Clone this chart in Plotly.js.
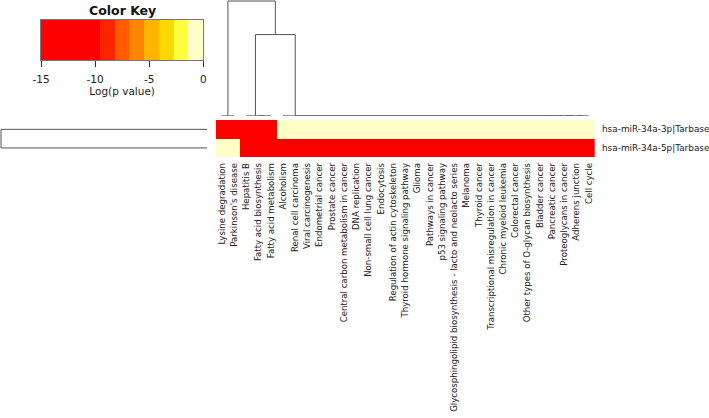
<!DOCTYPE html>
<html>
<head>
<meta charset="utf-8">
<script src="https://cdn.plot.ly/plotly-3.0.1.min.js"></script>
<style>html,body{margin:0;padding:0;background:#fff;}#chart{width:709px;height:418px;}</style>
</head>
<body>
<div id="chart"></div>
<script>
// ---- data ----
const pathways = [
  "Lysine degradation", "Parkinson's disease", "Hepatitis B", "Fatty acid biosynthesis",
  "Fatty acid metabolism", "Alcoholism", "Renal cell carcinoma", "Viral carcinogenesis",
  "Endometrial cancer", "Prostate cancer", "Central carbon metabolism in cancer",
  "DNA replication", "Non-small cell lung cancer", "Endocytosis",
  "Regulation of actin cytoskeleton", "Thyroid hormone signaling pathway", "Glioma",
  "Pathways in cancer", "p53 signaling pathway",
  "Glycosphingolipid biosynthesis - lacto and neolacto series", "Melanoma",
  "Thyroid cancer", "Transcriptional misregulation in cancer", "Chronic myeloid leukemia",
  "Colorectal cancer", "Other types of O-glycan biosynthesis", "Bladder cancer",
  "Pancreatic cancer", "Proteoglycans in cancer", "Adherens junction", "Cell cycle"
];
const mirnas = ["hsa-miR-34a-3p|Tarbase", "hsa-miR-34a-5p|Tarbase"];
// log(p value), clipped at -15
const logp_3p = [-15,-15,-15,-15,-15, 0,0,0,0,0, 0,0,0,0,0, 0,0,0,0,0, 0,0,0,0,0, 0,0,0,0,0, 0];
const logp_5p = [0,0,-15,-15,-15, -15,-15,-15,-15,-15, -15,-15,-15,-15,-15, -15,-15,-15,-15,-15, -15,-15,-15,-15,-15, -15,-15,-15,-15,-15, -15];

// colour key: 11 bins from -15 to 0
const keyBreaks = [-15, -13.636, -12.273, -10.909, -9.545, -8.182, -6.818, -5.455, -4.091, -2.727, -1.364, 0];
const keyColors = ["#FF0000","#FF0000","#FF0000","#FF0000","#FF2400","#FF5A00","#FF8400","#FFB400","#FFD800","#FFFF40","#FFFFC8"];
const keyTicks = [-15, -10, -5, 0];

// column dendrogram (hclust style merges: negative = leaf index, positive = merge number), heights
const colMerges = [
  [-1,-2,0], [-4,-5,0], [-3,2,0],
  [-30,-31,0], [-29,4,0], [-28,5,0], [-27,6,0], [-26,7,0], [-25,8,0], [-24,9,0],
  [-23,10,0], [-22,11,0], [-21,12,0], [-20,13,0], [-19,14,0], [-18,15,0], [-17,16,0],
  [-16,17,0], [-15,18,0], [-14,19,0], [-13,20,0], [-12,21,0], [-11,22,0], [-10,23,0],
  [-9,24,0], [-8,25,0], [-7,26,0], [-6,27,0],
  [3,28,15.0], [1,29,21.21]
];
// row dendrogram
const rowMerges = [[-1,-2,79.37]];

// ---- helpers ----
function dendroSegments(merges){
  const pos = [], hgt = [];
  const xs = [], ys = [];
  const nodePos = c => c < 0 ? -c : pos[c-1];
  const nodeH = c => c < 0 ? 0 : hgt[c-1];
  merges.forEach(m => {
    const [a,b,h] = m;
    const pa = nodePos(a), pb = nodePos(b);
    xs.push(pa, pa, pb, pb, null);
    ys.push(nodeH(a), h, h, nodeH(b), null);
    pos.push((pa+pb)/2); hgt.push(h);
  });
  return {pos: xs, h: ys};
}

const zmin = -15, zmax = 0;
const cs = [];
keyColors.forEach((c,i) => {
  cs.push([(keyBreaks[i]-zmin)/(zmax-zmin), c]);
  cs.push([(keyBreaks[i+1]-zmin)/(zmax-zmin), c]);
});

const W = 709, H = 418;
const px = v => v / W;
const py = v => 1 - v / H;
const FONT = "DejaVu Sans, sans-serif";
const lineCol = "#555555";

const heat = {
  type: "heatmap",
  x: pathways, y: mirnas,
  z: [logp_3p, logp_5p],
  zmin: zmin, zmax: zmax, colorscale: cs, showscale: false,
  xaxis: "x", yaxis: "y", hoverinfo: "x+y+z"
};

const keyMid = keyColors.map((c,i) => (keyBreaks[i]+keyBreaks[i+1])/2);
const key = {
  type: "heatmap",
  x: keyBreaks, y: [0, 1], z: [keyMid],
  zmin: zmin, zmax: zmax, colorscale: cs, showscale: false,
  xaxis: "x2", yaxis: "y2", hoverinfo: "skip"
};

const cd = dendroSegments(colMerges);
const colDend = {
  type: "scatter", mode: "lines", x: cd.pos, y: cd.h,
  line: {color: lineCol, width: 1}, xaxis: "x3", yaxis: "y3",
  hoverinfo: "skip", cliponaxis: false
};
const rd = dendroSegments(rowMerges);
const rowDend = {
  type: "scatter", mode: "lines", x: rd.h, y: rd.pos,
  line: {color: lineCol, width: 1}, xaxis: "x4", yaxis: "y4",
  hoverinfo: "skip", cliponaxis: false
};

const hmX = [px(215.7), px(595)];
const hmY = [py(157.3), py(120)];
const maxColH = 21.21, maxRowH = 79.37;

const layout = {
  width: W, height: H,
  margin: {l: 0, r: 0, t: 0, b: 0},
  paper_bgcolor: "#ffffff", plot_bgcolor: "rgba(0,0,0,0)",
  showlegend: false,
  font: {family: FONT, color: "#222222"},
  xaxis: {
    domain: hmX, anchor: "y", type: "category",
    tickangle: -90, ticks: "", showgrid: false, zeroline: false, showline: false,
    tickfont: {size: 8.6, family: FONT, color: "#222222"}, ticklabelstandoff: 3,
    fixedrange: true
  },
  yaxis: {
    domain: hmY, anchor: "x", type: "category", autorange: "reversed",
    side: "right", ticks: "", showgrid: false, zeroline: false, showline: false,
    tickfont: {size: 8.9, family: FONT, color: "#222222"}, ticklabelstandoff: 6,
    fixedrange: true
  },
  xaxis2: {
    domain: [px(41), px(203.3)], anchor: "y2", range: [zmin, zmax],
    tickvals: keyTicks, ticktext: keyTicks.map(String), ticks: "outside", ticklen: 6,
    tickcolor: "#333333", tickwidth: 1, showgrid: false, zeroline: false,
    showline: true, linecolor: "#777777", mirror: true,
    tickfont: {size: 10.5, family: FONT, color: "#222222"}, ticklabelstandoff: 3,
    title: {text: "Log(p value)", font: {size: 10.5, family: FONT, color: "#222222"}, standoff: 3},
    fixedrange: true
  },
  yaxis2: {
    domain: [py(60), py(20)], anchor: "x2", range: [0, 1],
    showticklabels: false, ticks: "", showgrid: false, zeroline: false,
    showline: true, linecolor: "#777777", mirror: true, fixedrange: true
  },
  xaxis3: {
    domain: hmX, anchor: "y3", range: [0.5, pathways.length + 0.5],
    visible: false, fixedrange: true
  },
  yaxis3: {
    domain: [py(115.7), 1], anchor: "x3", range: [0, maxColH * 115.7 / 114.7],
    visible: false, fixedrange: true
  },
  xaxis4: {
    domain: [0, px(207.3)], anchor: "y4", range: [maxRowH * 207.3 / 206.3, 0],
    visible: false, fixedrange: true
  },
  yaxis4: {
    domain: hmY, anchor: "x4", range: [mirnas.length + 0.5, 0.5],
    visible: false, fixedrange: true
  },
  annotations: [{
    text: "<b>Color Key</b>", xref: "paper", yref: "paper",
    x: px(122), y: py(10), xanchor: "center", yanchor: "middle",
    showarrow: false, font: {size: 12.5, family: FONT, color: "#111111"}
  }]
};

Plotly.newPlot("chart", [heat, key, colDend, rowDend], layout, {displayModeBar: false, staticPlot: true});
</script>
</body>
</html>
